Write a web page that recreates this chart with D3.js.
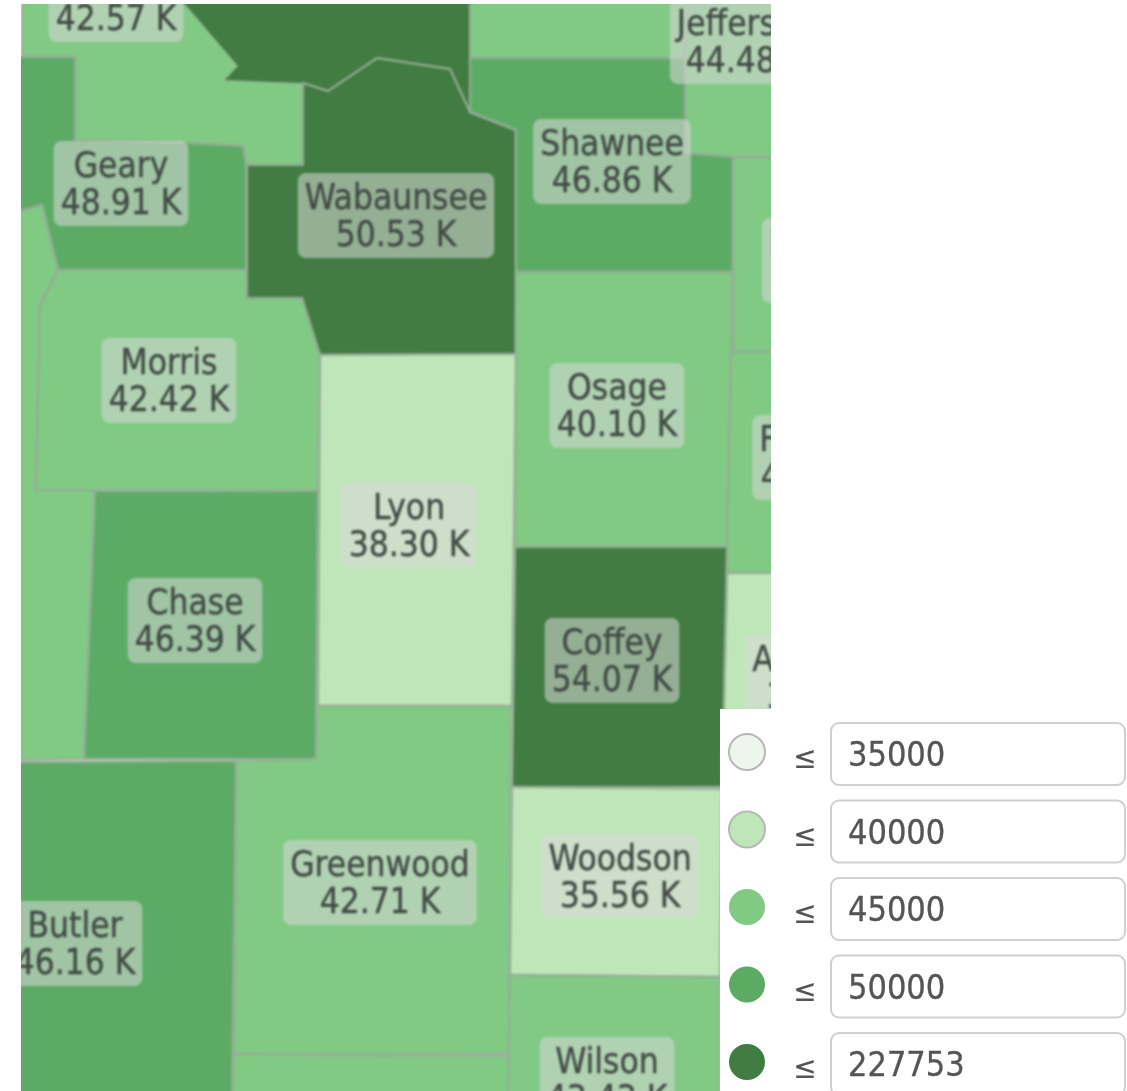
<!DOCTYPE html>
<html>
<head>
<meta charset="utf-8">
<script src="https://cdn.jsdelivr.net/npm/d3@7"></script>
<style>
  html, body { margin: 0; padding: 0; background: #fff; }
  svg { display: block; font-family: "DejaVu Sans Condensed", "DejaVu Sans", sans-serif; font-stretch: condensed; }
</style>
</head>
<body>
<svg id="chart" width="1127" height="1091"></svg>
<script>
// Thresholds and colours from the legend
const legendBreaks = [35000, 40000, 45000, 50000, 227753]
const legendColors = ["#edf6ea", "#bfe6b9", "#80ca84", "#5bab65", "#417c42"]

// Counties. Names and values are the labels, a blank name was cut off in the picture
const countyNames = ["", "Pottawatomie", "Geary", "Marion", "Morris", "Chase", "Wabaunsee", "Jackson", "Jefferson",
    "Shawnee", "Douglas", "Osage", "Franklin", "Anderson", "Coffey", "Lyon", "Greenwood", "Elk", "Butler", "Woodson", "Wilson"]
const countyValues = [42570, 52000, 48910, 43000, 42420, 46390, 50530, 43000, 44480,
    46860, 43000, 40100, 44000, 38000, 54070, 38300, 42710, 42000, 46160, 35560, 43430]

// Outlines in map units
const countyRings = [
    [[22,-20],[165,-20],[185,4],[238,66],[225,80],[303,83],[303,165],[247,165],[243,146],[190,143],[75,140],[75,57],[22,57]],
    [[185,4],[165,-20],[470,-20],[470,112],[450,69],[377,58],[328,91],[303,83],[225,80],[238,66]],
    [[10,57],[75,57],[75,140],[190,143],[243,146],[246,165],[246,270],[58,270],[42,205],[10,214]],
    [[10,214],[42,205],[58,270],[40,305],[36,490],[95,490],[84,759],[10,760]],
    [[58,270],[246,270],[247,298],[302,298],[320,355],[318,491],[36,490],[40,305]],
    [[95,491],[318,491],[316,759],[84,759]],
    [[303,83],[328,91],[377,58],[450,69],[470,112],[516,130],[516,354],[320,355],[302,298],[247,298],[247,165],[303,165]],
    [[470,-20],[690,-20],[685,58],[470,58]],
    [[690,-20],[800,-20],[800,158],[735,157],[685,153],[685,58]],
    [[470,58],[685,58],[685,153],[733,157],[733,272],[516,272],[516,130],[470,112]],
    [[733,157],[800,158],[800,352],[733,352]],
    [[516,272],[733,272],[727,547],[515,547]],
    [[733,272],[733,352],[800,352],[800,573],[727,573],[727,547]],
    [[727,573],[800,573],[800,800],[722,787]],
    [[515,547],[727,547],[722,787],[512,787]],
    [[320,355],[516,354],[512,706],[318,706]],
    [[236,761],[316,759],[318,706],[511,706],[509,1054],[234,1054]],
    [[234,1054],[509,1056],[508,1110],[232,1110]],
    [[10,762],[236,761],[232,1110],[10,1110]],
    [[512,787],[722,789],[720,977],[510,975]],
    [[510,975],[720,977],[720,1110],[508,1110]]
]

// Label centres in map units: x, y of the gap between the two lines
const labelAnchors = [[116,-1],[-100,-100],[121,183],[-100,-100],[169,380],[195,620],[396,215],[-100,-100],[746,41],
    [612,161],[833,260],[617,405],[821,457],[827,677],[612,660],[409,525],[380,882],[-100,-100],[75,943],[620,876],[607,1079]]

// These counties have no grey line of their own in the picture
const unstroked = ["Pottawatomie"]

const svg = d3.select("#chart")

const color = d3.scaleThreshold().domain(legendBreaks.slice(0, -1)).range(legendColors)

const features = countyNames.map((name, i) => ({
    type: "Feature",
    properties: {name: name, value: countyValues[i], anchor: labelAnchors[i]},
    geometry: {type: "Polygon", coordinates: [countyRings[i].concat([countyRings[i][0]])]}
}))

const path = d3.geoPath(d3.geoIdentity())

//Map is cut by its viewport, the legend panel sits on top of it
svg.append("clipPath").attr("id", "mapClip")
    .append("rect").attr("x", 21).attr("y", 4).attr("width", 750).attr("height", 1087)

const map = svg.append("g").attr("clip-path", "url(#mapClip)")
    .append("g").style("filter", "blur(0.8px)")

map.selectAll("path").data(features).join("path")
    .attr("d", path)
    .attr("fill", d => color(d.properties.value))
    .attr("stroke", d => unstroked.includes(d.properties.name) ? "none" : "#98ad98")
    .attr("stroke-width", 2.6)
    .attr("stroke-opacity", 0.85)
    .attr("stroke-linejoin", "round")

const fmt = v => (v / 1000).toFixed(2) + " K"

const labels = map.selectAll("g.label").data(features.filter(d => d.properties.anchor[0] > 0)).join("g")
    .attr("class", "label")
    .attr("transform", d => `translate(${d.properties.anchor[0]},${d.properties.anchor[1]})`)

const boxes = labels.append("rect")
    .attr("fill", "#d8d8d8").attr("fill-opacity", 0.55).attr("rx", 8)

const labelText = labels.append("text")
    .attr("text-anchor", "middle")
    .attr("font-size", 35)
    .attr("fill", "#434c47")
    .attr("stroke", "#434c47")
    .attr("stroke-width", 0.4)

labelText.append("tspan").attr("x", 0).attr("y", -6).text(d => d.properties.name)
labelText.append("tspan").attr("x", 0).attr("y", 31).text(d => fmt(d.properties.value))

boxes.each(function(){
    const tw = d3.max(Array.from(this.parentNode.querySelectorAll("tspan")), t => t.getComputedTextLength())
    d3.select(this).attr("x", -tw / 2 - 7).attr("y", -42).attr("width", tw + 14).attr("height", 85)
})

// Legend panel
const legend = svg.append("g")
legend.append("rect").attr("x", 720).attr("y", 709).attr("width", 407).attr("height", 382).attr("fill", "#fff")

const rowY = d3.scalePoint().domain(legendBreaks).range([754, 1064])

const rows = legend.selectAll("g.row").data(legendBreaks).join("g")
    .attr("class", "row")
    .attr("transform", d => `translate(0,${rowY(d)})`)
    .style("filter", "blur(0.4px)")

rows.append("circle")
    .attr("cx", 747).attr("cy", -2).attr("r", 18)
    .attr("fill", d => color(d === legendBreaks[4] ? d : d - 1))
    .attr("stroke", (d, i) => i < 2 ? "#b5b8b5" : "none")
    .attr("stroke-width", 2)

rows.append("text")
    .attr("x", 805).attr("y", 14)
    .attr("text-anchor", "middle")
    .attr("font-size", 31)
    .attr("fill", "#555")
    .text("≤")

rows.append("rect")
    .attr("x", 831).attr("y", -31).attr("width", 294).attr("height", 62).attr("rx", 8)
    .attr("fill", "#fff").attr("stroke", "#cfcfcf").attr("stroke-width", 2)

rows.append("text")
    .attr("x", 848).attr("y", 12)
    .attr("font-size", 34)
    .attr("fill", "#555")
    .attr("stroke", "#555")
    .attr("stroke-width", 0.3)
    .text(d => d)
</script>
</body>
</html>
